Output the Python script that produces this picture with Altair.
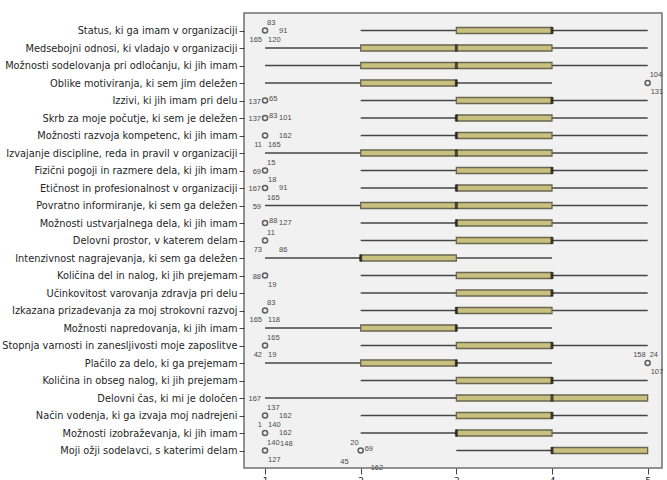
import altair as alt
import pandas as pd

# Items rated on a 1-5 scale (top to bottom)
categories = [
    "Status, ki ga imam v organizaciji",
    "Medsebojni odnosi, ki vladajo v organizaciji",
    "Možnosti sodelovanja pri odločanju, ki jih imam",
    "Oblike motiviranja, ki sem jim deležen",
    "Izzivi, ki jih imam pri delu",
    "Skrb za moje počutje, ki sem je deležen",
    "Možnosti razvoja kompetenc, ki jih imam",
    "Izvajanje discipline, reda in pravil v organizaciji",
    "Fizični pogoji in razmere dela, ki jih imam",
    "Etičnost in profesionalnost v organizaciji",
    "Povratno informiranje, ki sem ga deležen",
    "Možnosti ustvarjalnega dela, ki jih imam",
    "Delovni prostor, v katerem delam",
    "Intenzivnost nagrajevanja, ki sem ga deležen",
    "Količina del in nalog, ki jih prejemam",
    "Učinkovitost varovanja zdravja pri delu",
    "Izkazana prizadevanja za moj strokovni razvoj",
    "Možnosti napredovanja, ki jih imam",
    "Stopnja varnosti in zanesljivosti moje zaposlitve",
    "Plačilo za delo, ki ga prejemam",
    "Količina in obseg nalog, ki jih prejemam",
    "Delovni čas, ki mi je določen",
    "Način vodenja, ki ga izvaja moj nadrejeni",
    "Možnosti izobraževanja, ki jih imam",
    "Moji ožji sodelavci, s katerimi delam",
]
whisker_low = [2, 1, 1, 1, 2, 2, 2, 1, 2, 2, 1, 2, 2, 1, 2, 2, 2, 1, 2, 1, 2, 1, 2, 2, 3]
q1 =          [3, 2, 2, 2, 3, 3, 3, 2, 3, 3, 2, 3, 3, 2, 3, 3, 3, 2, 3, 2, 3, 3, 3, 3, 4]
median =      [4, 3, 3, 3, 4, 3, 3, 3, 4, 3, 3, 3, 4, 2, 4, 4, 3, 3, 4, 3, 4, 4, 4, 3, 4]
q3 =          [4, 4, 4, 3, 4, 4, 4, 4, 4, 4, 4, 4, 4, 3, 4, 4, 4, 3, 4, 3, 4, 5, 4, 4, 5]
whisker_high = [5, 5, 5, 4, 5, 5, 5, 5, 5, 5, 5, 5, 5, 4, 5, 5, 5, 4, 5, 4, 5, 5, 5, 5, 5]

# Outlying cases: row index and value
outlier_rows = [0, 3, 4, 5, 6, 8, 9, 11, 12, 14, 16, 18, 19, 22, 23, 24, 24]
outlier_values = [1, 5, 1, 1, 1, 1, 1, 1, 1, 1, 1, 1, 5, 1, 1, 1, 2]

# Case-number labels: row index, value, text, placement code
label_rows = [0, 0, 0, 0, 3, 3, 4, 4, 5, 5, 5, 6, 6, 6, 8, 8, 8, 9, 9, 10, 10,
              11, 11, 12, 12, 12, 14, 14, 16, 16, 16, 18, 18, 18, 19, 19, 19,
              21, 22, 22, 22, 22, 23, 24, 24, 24, 24, 24, 24, 24]
label_values = [1, 1, 1, 1, 5, 5, 1, 1, 1, 1, 1, 1, 1, 1, 1, 1, 1, 1, 1, 1, 1,
                1, 1, 1, 1, 1, 1, 1, 1, 1, 1, 1, 1, 1, 5, 5, 5,
                1, 1, 1, 1, 1, 1, 1, 1, 1, 2, 2, 2, 2]
label_texts = ["83", "91", "165", "120", "104", "131", "137", "65", "137", "83", "101",
               "162", "11", "165", "69", "15", "18", "167", "91", "59", "165",
               "88", "127", "11", "73", "86", "88", "19", "83", "165", "118",
               "165", "42", "19", "158", "24", "107",
               "167", "137", "162", "1", "140", "162", "140", "148", "127",
               "20", "69", "45", "162"]
label_pos = ["ar", "rr", "bl", "br", "ar", "br", "l", "r", "l", "r", "rr",
             "rr", "bl", "br", "l", "ar", "br", "l", "rr", "l", "ar",
             "r", "rr", "ar", "bl", "brr", "l", "br", "ar", "bl", "br",
             "ar", "bl", "br", "al", "ar", "br",
             "l", "ar", "rr", "bl", "br", "rr", "ar", "arr", "br",
             "al", "r", "bll", "bbr"]

# Pixel placement of each label code: (dx, dy, align)
placements = {
    "l": (-4, 1, "right"),
    "r": (4, -2, "left"),
    "rr": (14, 0, "left"),
    "ar": (2, -8, "left"),
    "arr": (15, -7, "left"),
    "al": (-2, -8, "right"),
    "br": (3, 9, "left"),
    "brr": (14, 9, "left"),
    "bl": (-3, 9, "right"),
    "bll": (-12, 11, "right"),
    "bbr": (10, 17, "left"),
}

boxes = pd.DataFrame({
    "item": categories,
    "low": whisker_low,
    "q1": q1,
    "median": median,
    "q3": q3,
    "high": whisker_high,
})
outliers = pd.DataFrame({
    "item": [categories[i] for i in outlier_rows],
    "value": outlier_values,
})
labels = pd.DataFrame({
    "item": [categories[i] for i in label_rows],
    "value": label_values,
    "text": label_texts,
    "pos": label_pos,
})

x_scale = alt.Scale(domain=[0.78, 5.15], nice=False, zero=False)
y_scale = alt.Scale(type="point", padding=1.82)
y_enc = alt.Y(
    "item:N", sort=categories, scale=y_scale, title=None,
    axis=alt.Axis(labelFontSize=9.8, labelFont="DejaVu Sans", labelColor="#262626",
                  tickSize=5, tickColor="#444444", labelPadding=2, labelLimit=260,
                  domain=False, grid=False),
)
x_axis = alt.Axis(values=[1, 2, 3, 4, 5], format="d", tickSize=6, tickColor="#444444",
                  labelFontSize=9, labelFont="DejaVu Sans", labelColor="#262626",
                  domain=False, grid=False, title=None)

base = alt.Chart(boxes)

whiskers = base.mark_rule(color="#454545", strokeWidth=1.7).encode(
    x=alt.X("low:Q", scale=x_scale, axis=x_axis),
    x2="high:Q",
    y=y_enc,
)
box = base.mark_bar(size=6, fill="#c8c07e", stroke="#6a6650", strokeWidth=1.3).encode(
    x=alt.X("q1:Q", scale=x_scale),
    x2="q3:Q",
    y=alt.Y("item:N", sort=categories, scale=y_scale),
)
med = base.mark_tick(color="#111111", thickness=3, size=7).encode(
    x=alt.X("median:Q", scale=x_scale),
    y=alt.Y("item:N", sort=categories, scale=y_scale),
)
circles = alt.Chart(outliers).mark_point(
    shape="circle", size=26, filled=False, stroke="#222222", strokeWidth=1.5
).encode(
    x=alt.X("value:Q", scale=x_scale),
    y=alt.Y("item:N", sort=categories, scale=y_scale),
)

text_layers = []
for code, (dx, dy, align) in placements.items():
    text_layers.append(
        alt.Chart(labels).transform_filter(alt.datum.pos == code).mark_text(
            dx=dx, dy=dy, align=align, baseline="middle",
            fontSize=7.5, font="Liberation Sans", color="#4a4a4a",
        ).encode(
            x=alt.X("value:Q", scale=x_scale),
            y=alt.Y("item:N", sort=categories, scale=y_scale),
            text="text:N",
        )
    )

chart = alt.layer(whiskers, box, med, circles, *text_layers).properties(
    width=418,
    height=455,
    autosize=alt.AutoSizeParams(type="none"),
    padding={"left": 244, "top": 13, "right": 5, "bottom": 12},
    background="white",
).configure_view(
    fill="#f1f1f1", stroke="#707070", strokeWidth=1.5
)

chart.save("out.html", embed_options={"renderer": "svg", "actions": False})
